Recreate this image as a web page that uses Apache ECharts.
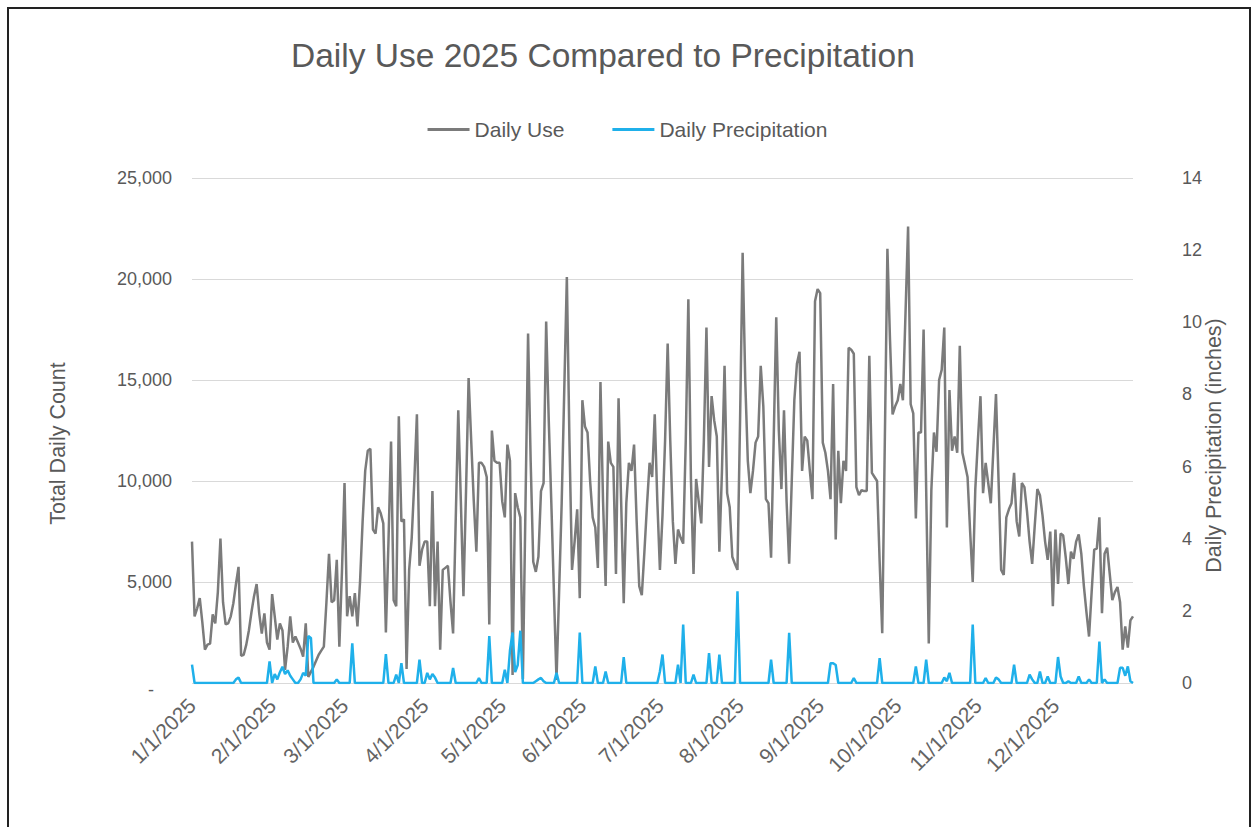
<!DOCTYPE html>
<html>
<head>
<meta charset="utf-8">
<script src="https://cdn.jsdelivr.net/npm/echarts@6/dist/echarts.min.js"></script>
<style>
html,body{margin:0;padding:0;background:#fff;}
#frame{position:absolute;left:7px;top:7px;width:1244px;height:830px;border:2px solid #222;box-sizing:border-box;}
#chart{position:absolute;left:0;top:0;width:1255px;height:827px;}
</style>
</head>
<body>
<div id="frame"></div>
<div id="chart"></div>
<script>
// ---- Data ----
const year = 2025;
const monthLengths = [31,28,31,30,31,30,31,31,30,31,30,31];
const dates = [];
for (let m = 0; m < 12; m++) { for (let d = 1; d <= monthLengths[m]; d++) dates.push((m+1) + '/' + d + '/' + year); }

const dailyUse = [
7000,3300,3700,4200,3000,1650,1900,1950,3400,2950,
4500,7150,4000,2900,2950,3300,3950,4900,5750,1350,
1400,1900,2600,3500,4300,4900,3450,2450,3450,2000,
1650,4400,3300,2150,2950,2600,650,1800,3300,2000,
2300,2000,1700,1300,2950,300,550,800,1100,1400,
1600,1800,4000,6400,4000,4100,6100,1800,5500,9900,
3300,4300,3300,4450,2800,5000,8000,10500,11500,11600,
7600,7400,8700,8400,7900,2500,7000,11950,4100,3800,
13200,8000,8100,700,5600,7200,10000,13300,5800,6600,
7000,7000,3800,9500,3800,7000,1650,5600,5700,5800,
4000,2450,8000,13500,9000,4300,9500,15100,12000,9000,
6500,10900,10900,10700,10200,2900,12500,11000,10900,10900,
9000,8200,11800,11000,400,9400,8700,8200,200,8800,
17300,11000,6000,5500,6250,9500,9900,17900,13000,8900,
4500,150,4500,8900,14500,20100,12000,5600,7000,8600,
4200,14000,12700,12400,10000,8200,7700,5700,14900,9000,
4800,11950,10900,10700,5400,14100,9000,3950,8900,10900,
10500,11800,8000,4800,4350,6500,8800,10900,10200,13300,
9000,5600,8300,12000,16800,12000,8000,5900,7600,7200,
6900,12000,19000,10100,5400,10100,9000,7900,12000,17600,
10700,14200,13000,12200,6500,10500,15700,9400,8700,6250,
5900,5600,13000,21300,15000,11000,9400,10500,11900,12200,
15700,13700,9100,8900,6200,12000,18100,12500,9600,13500,
9000,5900,10000,14000,15800,16400,10500,12200,12000,10500,
9100,18900,19500,19300,11900,11400,10500,9100,14800,7100,
11500,8900,11000,10500,16600,16500,16300,9700,9300,9550,
9500,9500,16200,10400,10200,10000,6000,2460,12000,21500,
17000,13300,13700,14000,14800,14000,18300,22600,13800,13350,
8150,12400,12400,17500,9550,1960,9550,12400,11450,15000,
15500,17600,7700,14500,11500,12200,11400,16700,11400,10800,
10200,7500,5000,9600,12000,14200,9400,10900,9900,8900,
11600,14300,10000,5600,5350,8200,8600,8900,10400,8000,
7250,9900,9700,8500,7000,5900,7800,9600,9300,8300,
7000,6100,7500,3800,7600,4900,7400,7300,6200,4900,
6500,6150,7000,7350,6400,4800,3500,2300,4500,6600,
6650,8200,3450,6400,6700,5400,4100,4500,4750,4000,
1650,2800,1750,3100,3300
];

const dailyPrecip = [
0.51,0,0,0,0,0,0,0,0,0,
0,0,0,0,0,0,0,0.1,0.15,0,
0,0,0,0,0,0,0,0,0,0,
0.6,0,0.25,0.1,0.3,0.45,0.25,0.35,0.2,0.1,
0,0,0.1,0.28,0.2,1.3,1.25,0,0,0,
0,0,0,0,0,0,0.1,0,0,0,
0,0,1.1,0,0,0,0,0,0,0,
0,0,0,0,0,0.8,0,0,0,0.23,
0,0.55,0,0,0,0,0,0,0.65,0,
0,0.28,0.1,0.25,0.15,0,0,0,0,0,
0,0.42,0,0,0,0,0,0,0,0,
0,0.14,0,0,0,1.3,0,0,0,0,
0,0.37,0,0.9,1.4,0.3,0.5,1.45,0,0,
0,0,0,0.05,0.1,0.14,0.05,0,0,0,
0,0.28,0,0,0,0,0,0,0,0,
1.4,0,0,0,0,0,0.46,0,0,0,
0.32,0,0,0,0,0,0,0.72,0,0,
0,0,0,0,0,0,0,0,0,0,
0,0.32,0.79,0,0,0,0,0,0.51,0,
1.62,0,0,0,0.23,0,0,0,0,0,
0.83,0,0,0,0.79,0,0,0,0,0,
0,2.54,0,0,0,0,0,0,0,0,
0,0,0,0,0.65,0,0,0,0,0,
0,1.39,0,0,0,0,0,0,0,0,
0,0,0,0,0,0,0,0.55,0.55,0.5,
0,0,0,0,0,0,0.14,0,0,0,
0,0,0,0,0,0,0.69,0,0,0,
0,0,0,0,0,0,0,0,0,0,
0.46,0,0,0,0.65,0,0,0,0,0,
0,0.15,0.05,0.28,0,0,0,0,0,0,
0,0,1.62,0,0,0,0,0.14,0,0,
0,0.15,0.1,0,0,0,0,0,0.51,0,
0,0,0,0,0.23,0.1,0,0,0.32,0,
0,0.18,0,0,0,0.72,0.18,0,0,0.05,
0,0,0,0.18,0,0,0,0.1,0,0,
0,1.15,0,0.1,0,0,0,0,0,0.42,
0.42,0.2,0.46,0.05,0
];

const leftTicks = [0, 5000, 10000, 15000, 20000, 25000];
const rightTicks = [0, 2, 4, 6, 8, 10, 12, 14];
const monthStartLabels = ['1/1/2025','2/1/2025','3/1/2025','4/1/2025','5/1/2025','6/1/2025','7/1/2025','8/1/2025','9/1/2025','10/1/2025','11/1/2025','12/1/2025'];

const FONT = '"Liberation Sans", Arial, sans-serif';
const TXT = '#595959';

const chart = echarts.init(document.getElementById('chart'), null, {renderer: 'svg'});
chart.setOption({
  animation: false,
  backgroundColor: 'transparent',
  title: {
    text: 'Daily Use 2025 Compared to Precipitation',
    left: 286, top: 33,
    textStyle: {fontFamily: FONT, fontSize: 33.5, fontWeight: 'normal', color: TXT}
  },
  legend: {
    top: 114, left: 'center', itemGap: 48, itemWidth: 42, itemHeight: 3,
    icon: 'rect',
    textStyle: {fontFamily: FONT, fontSize: 21, color: TXT},
    data: ['Daily Use', 'Daily Precipitation']
  },
  grid: {left: 192, right: 122, top: 178, bottom: 144, containLabel: false},
  xAxis: {
    type: 'category', boundaryGap: false, data: dates,
    axisLine: {show: false}, axisTick: {show: false},
    splitLine: {show: false},
    axisLabel: {
      rotate: 45, margin: 19, color: '#646464', fontFamily: FONT, fontSize: 21,
      interval: function (idx, val) { return monthStartLabels.indexOf(val) >= 0; }
    }
  },
  yAxis: [
    {
      type: 'value', min: leftTicks[0], max: leftTicks[leftTicks.length-1], interval: 5000,
      name: 'Total Daily Count', nameLocation: 'middle', nameGap: 123, nameMoveOverlap: false,
      nameTextStyle: {fontFamily: FONT, fontSize: 21.5, color: TXT, padding: [0, 26, 0, 0]},
      axisLine: {show: false}, axisTick: {show: false},
      axisLabel: {margin: 20, color: TXT, fontFamily: FONT, fontSize: 18,
        formatter: function (v) { return v === 0 ? '{dash|-}' : v.toLocaleString('en-US'); },
        rich: {dash: {fontFamily: FONT, fontSize: 18, color: TXT, padding: [14, 18, 0, 0]}}},
      splitLine: {lineStyle: {color: '#d9d9d9', width: 1}}
    },
    {
      type: 'value', min: rightTicks[0], max: rightTicks[rightTicks.length-1], interval: 2,
      name: 'Daily Precipitation (inches)', nameLocation: 'middle', nameGap: 70, nameMoveOverlap: false,
      nameTextStyle: {fontFamily: FONT, fontSize: 21.5, color: TXT, padding: [0, 30, 0, 0]},
      axisLine: {show: false}, axisTick: {show: false},
      axisLabel: {margin: 49, color: TXT, fontFamily: FONT, fontSize: 18},
      splitLine: {show: false}
    }
  ],
  series: [
    {
      name: 'Daily Use', type: 'line', data: dailyUse, yAxisIndex: 0,
      showSymbol: false, symbol: 'none',
      lineStyle: {color: '#7b7b7b', width: 2.5}, itemStyle: {color: '#7b7b7b'}
    },
    {
      name: 'Daily Precipitation', type: 'line', data: dailyPrecip, yAxisIndex: 1,
      showSymbol: false, symbol: 'none',
      lineStyle: {color: '#1fb0ea', width: 2.5}, itemStyle: {color: '#1fb0ea'}
    }
  ]
});
</script>
</body>
</html>
